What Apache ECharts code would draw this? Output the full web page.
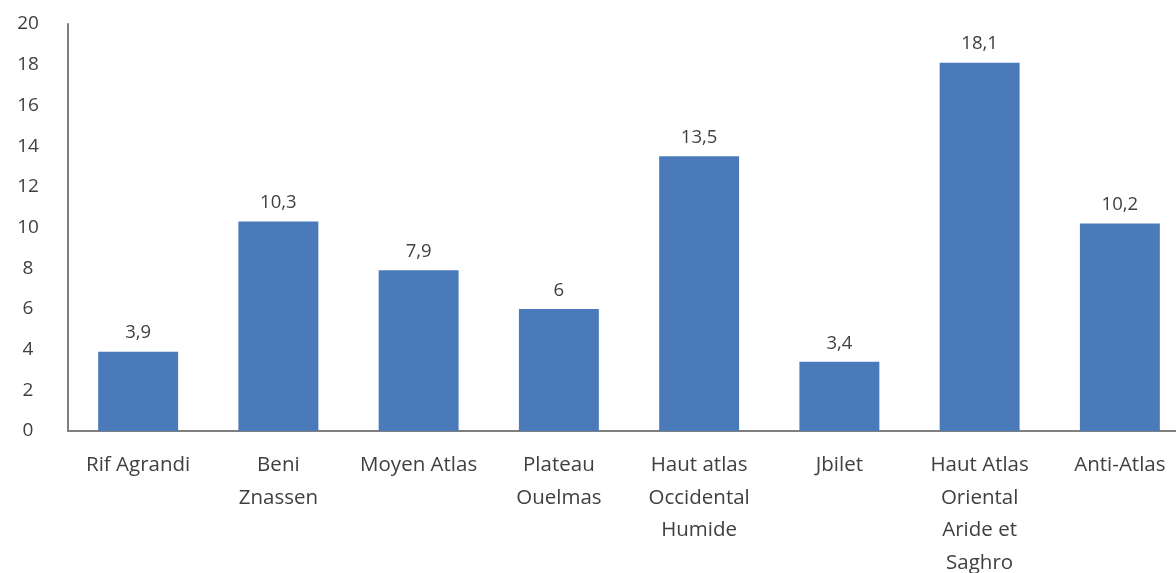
<!DOCTYPE html>
<html>
<head>
<meta charset="utf-8">
<script src="https://cdn.jsdelivr.net/npm/echarts@6/dist/echarts.min.js"></script>
<style>
html,body{margin:0;padding:0;background:#fff;overflow:hidden;}
#c{width:1176px;height:573px;}
</style>
</head>
<body>
<div id="c"></div>
<script>
const categories = ["Rif Agrandi", "Beni\nZnassen", "Moyen Atlas", "Plateau\nOuelmas", "Haut atlas\nOccidental\nHumide", "Jbilet", "Haut Atlas\nOriental\nAride et\nSaghro", "Anti-Atlas"];
const values = [3.9, 10.3, 7.9, 6, 13.5, 3.4, 18.1, 10.2];
const yTicks = {min: 0, max: 20, interval: 2};

const font = '"Open Sans", "Noto Sans", sans-serif';
const chart = echarts.init(document.getElementById('c'), null, {renderer: 'canvas'});
chart.setOption({
  animation: false,
  grid: {left: 68, right: -14, top: 24, bottom: 142, containLabel: false, outerBoundsMode: 'none'},
  xAxis: {
    type: 'category',
    data: categories,
    axisLine: {lineStyle: {color: '#7f7f7f', width: 2}},
    axisTick: {show: false},
    axisLabel: {color: '#404040', fontSize: 20.5, fontFamily: font, lineHeight: 32.5, margin: 18, interval: 0}
  },
  yAxis: {
    type: 'value',
    min: yTicks.min, max: yTicks.max, interval: yTicks.interval,
    axisLine: {show: true, lineStyle: {color: '#7f7f7f', width: 2}},
    axisTick: {show: false},
    splitLine: {show: false},
    axisLabel: {color: '#404040', fontSize: 19, fontFamily: font, align: 'center', margin: 40}
  },
  series: [{
    type: 'bar',
    data: values,
    barWidth: '57%',
    itemStyle: {color: '#4a7aba'},
    label: {
      show: true, position: 'top', distance: 9,
      color: '#404040', fontSize: 18.5, fontFamily: font,
      formatter: p => String(p.value).replace('.', ',')
    }
  }]
});
</script>
</body>
</html>
